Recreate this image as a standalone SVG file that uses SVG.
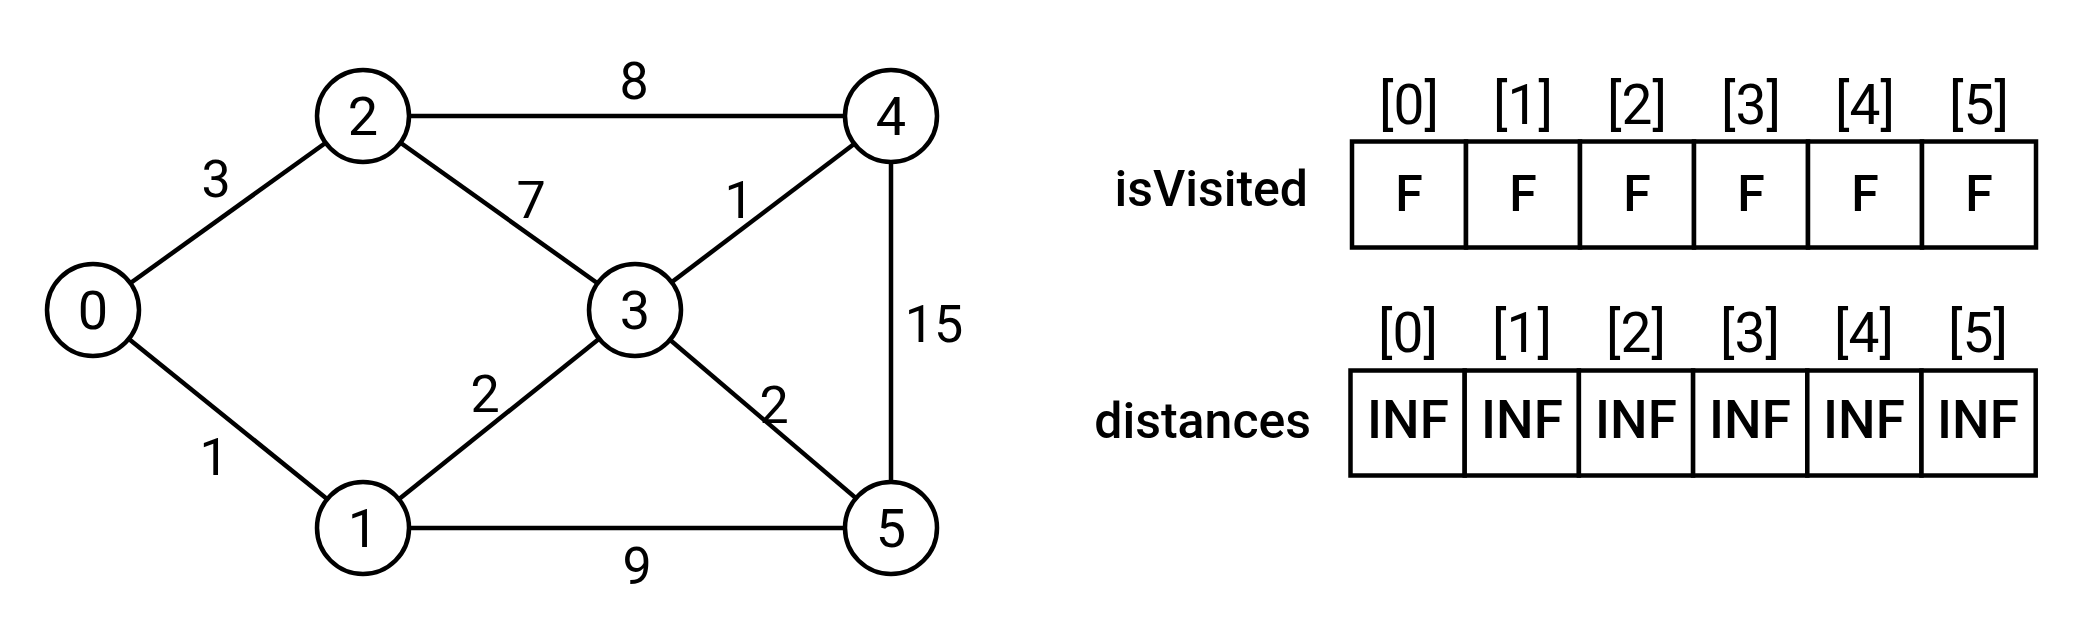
<svg xmlns="http://www.w3.org/2000/svg" width="2078" height="632" viewBox="0 0 2078 632">
<style>
.bg{fill:#fff}
.edge{stroke:#000;stroke-width:4.5;fill:none}
.node{fill:#fff;stroke:#000;stroke-width:4.5}
.t{font-family:Roboto,"Liberation Sans",sans-serif;font-size:52px;fill:#000;text-anchor:middle}
.n{font-size:54px}
.idx{font-size:55px}
.f{font-size:50px;font-weight:500}
.inf{font-size:53px;font-weight:500}
.lbl{font-family:Roboto,"Liberation Sans",sans-serif;font-size:50px;fill:#000;text-anchor:end;font-weight:500}
.cell{fill:#fff;stroke:#000;stroke-width:4.5}
</style>
<rect class="bg" x="0" y="0" width="2078" height="632"/>
<g id="connectors">
<line class="edge" x1="93" y1="310" x2="363" y2="116"/>
<line class="edge" x1="93" y1="310" x2="363" y2="528"/>
<line class="edge" x1="363" y1="116" x2="891" y2="116"/>
<line class="edge" x1="363" y1="116" x2="635" y2="310"/>
<line class="edge" x1="635" y1="310" x2="891" y2="116"/>
<line class="edge" x1="363" y1="528" x2="635" y2="310"/>
<line class="edge" x1="635" y1="310" x2="891" y2="528"/>
<line class="edge" x1="363" y1="528" x2="891" y2="528"/>
<line class="edge" x1="891" y1="116" x2="891" y2="528"/>
</g>
<g id="edge-labels">
<text class="t" x="216" y="197">3</text>
<text class="t" x="214" y="475">1</text>
<text class="t" x="634" y="99">8</text>
<text class="t" x="531" y="218">7</text>
<text class="t" x="739" y="218">1</text>
<text class="t" x="485" y="412">2</text>
<text class="t" x="774" y="423">2</text>
<text class="t" x="934" y="342">15</text>
<text class="t" x="637" y="584">9</text>
</g>
<g id="node-0"><circle class="node" cx="93" cy="310" r="46"/><text class="t n" x="93" y="329">0</text></g>
<g id="node-1"><circle class="node" cx="363" cy="528" r="46"/><text class="t n" x="363" y="547">1</text></g>
<g id="node-2"><circle class="node" cx="363" cy="116" r="46"/><text class="t n" x="363" y="135">2</text></g>
<g id="node-3"><circle class="node" cx="635" cy="310" r="46"/><text class="t n" x="635" y="329">3</text></g>
<g id="node-4"><circle class="node" cx="891" cy="116" r="46"/><text class="t n" x="891" y="135">4</text></g>
<g id="node-5"><circle class="node" cx="891" cy="528" r="46"/><text class="t n" x="891" y="547">5</text></g>
<g id="isVisited">
<text class="lbl" x="1308" y="206">isVisited</text>
<text class="t idx" x="1409" y="124">[0]</text>
<text class="t idx" x="1523" y="124">[1]</text>
<text class="t idx" x="1637" y="124">[2]</text>
<text class="t idx" x="1751" y="124">[3]</text>
<text class="t idx" x="1865" y="124">[4]</text>
<text class="t idx" x="1979" y="124">[5]</text>
<rect class="cell" x="1352" y="141.5" width="114" height="106"/>
<rect class="cell" x="1466" y="141.5" width="114" height="106"/>
<rect class="cell" x="1580" y="141.5" width="114" height="106"/>
<rect class="cell" x="1694" y="141.5" width="114" height="106"/>
<rect class="cell" x="1808" y="141.5" width="114" height="106"/>
<rect class="cell" x="1922" y="141.5" width="114" height="106"/>
<text class="t f" x="1409" y="211">F</text>
<text class="t f" x="1523" y="211">F</text>
<text class="t f" x="1637" y="211">F</text>
<text class="t f" x="1751" y="211">F</text>
<text class="t f" x="1865" y="211">F</text>
<text class="t f" x="1979" y="211">F</text>
</g>
<g id="distances">
<text class="lbl" x="1311" y="438">distances</text>
<text class="t idx" x="1408" y="352">[0]</text>
<text class="t idx" x="1522" y="352">[1]</text>
<text class="t idx" x="1636" y="352">[2]</text>
<text class="t idx" x="1750" y="352">[3]</text>
<text class="t idx" x="1864" y="352">[4]</text>
<text class="t idx" x="1978" y="352">[5]</text>
<rect class="cell" x="1350.5" y="370.5" width="114.2" height="105"/>
<rect class="cell" x="1464.7" y="370.5" width="114.2" height="105"/>
<rect class="cell" x="1578.9" y="370.5" width="114.2" height="105"/>
<rect class="cell" x="1693.1" y="370.5" width="114.2" height="105"/>
<rect class="cell" x="1807.3" y="370.5" width="114.2" height="105"/>
<rect class="cell" x="1921.5" y="370.5" width="114.2" height="105"/>
<text class="t inf" x="1408" y="438">INF</text>
<text class="t inf" x="1522" y="438">INF</text>
<text class="t inf" x="1636" y="438">INF</text>
<text class="t inf" x="1750" y="438">INF</text>
<text class="t inf" x="1864" y="438">INF</text>
<text class="t inf" x="1978" y="438">INF</text>
</g>
</svg>
